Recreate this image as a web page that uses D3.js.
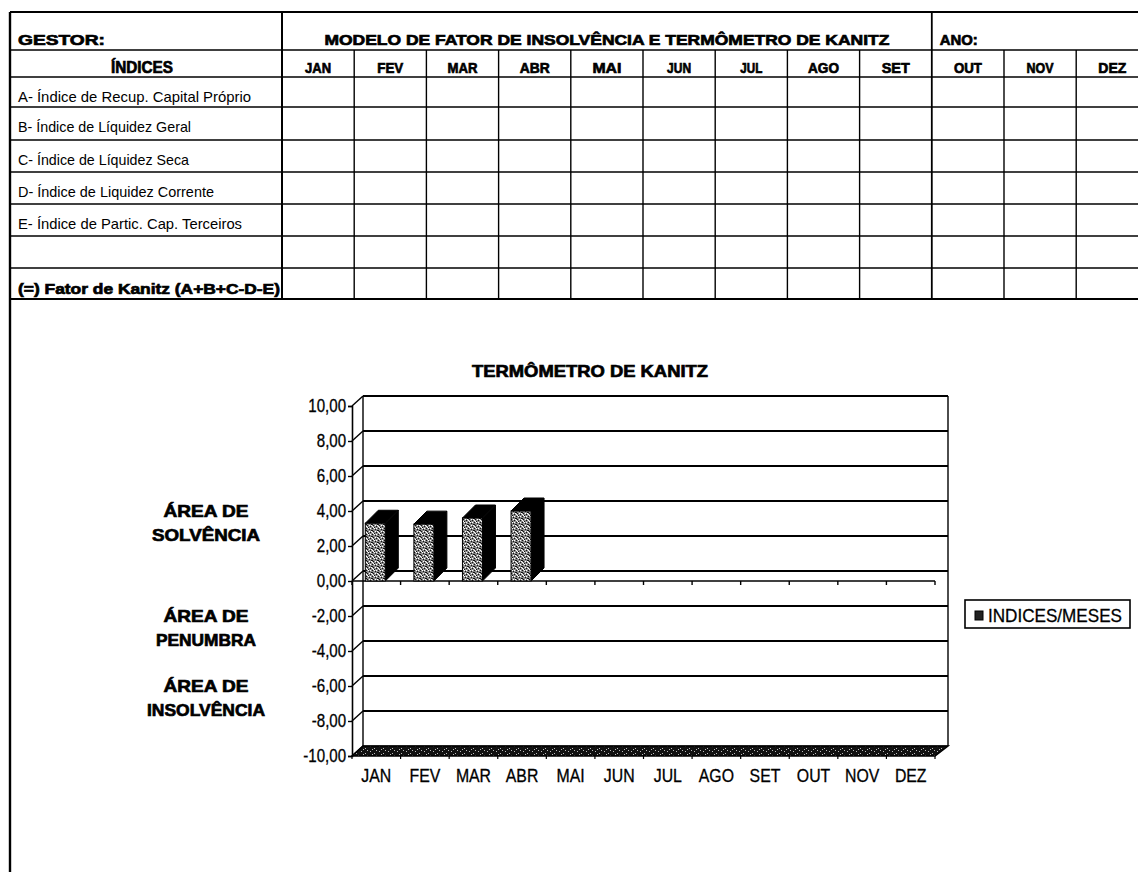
<!DOCTYPE html>
<html lang="pt">
<head>
<meta charset="utf-8">
<title>Termômetro de Kanitz</title>
<script src="https://cdn.jsdelivr.net/npm/d3@7"></script>
<style>
  html, body { margin: 0; padding: 0; background: #fff; }
  svg { display: block; }
  text { font-family: "Liberation Sans", Arial, sans-serif; fill: #000; }
  text.heavy { stroke: #000; stroke-width: 0.7px; paint-order: stroke; }
</style>
</head>
<body>
<svg id="sheet" width="1138" height="872"></svg>
<script>
// ---- sheet content ----
const months = ["JAN", "FEV", "MAR", "ABR", "MAI", "JUN", "JUL", "AGO", "SET", "OUT", "NOV", "DEZ"];
const indexRows = [
  "A- Índice de Recup. Capital Próprio",
  "B- Índice de Líquidez Geral",
  "C- Índice de Líquidez Seca",
  "D- Índice de Liquidez Corrente",
  "E- Índice de Partic. Cap. Terceiros",
  "",
  "(=) Fator de Kanitz (A+B+C-D-E)"
];
const sheetTitle = "MODELO DE FATOR DE INSOLVÊNCIA E TERMÔMETRO DE KANITZ";
const chartTitle = "TERMÔMETRO DE KANITZ";
// Kanitz factor per month (only JAN–ABR filled in)
const kanitzValues = [3.3, 3.25, 3.6, 4.0, null, null, null, null, null, null, null, null];
const yTickValues = [10, 8, 6, 4, 2, 0, -2, -4, -6, -8, -10];
const zoneLabels = [
  { lines: ["ÁREA DE", "SOLVÊNCIA"], at: 4 },
  { lines: ["ÁREA DE", "PENUMBRA"], at: -2 },
  { lines: ["ÁREA DE", "INSOLVÊNCIA"], at: -6 }
];
const legendLabel = "INDICES/MESES";

const svg = d3.select("#sheet");

// ---- patterns: stippled column face and speckled floor ----
const defs = svg.append("defs");
const stip = defs.append("pattern").attr("id", "stipple")
  .attr("width", 6).attr("height", 6).attr("patternUnits", "userSpaceOnUse");
stip.append("rect").attr("width", 6).attr("height", 6).attr("fill", "#8a8a8a");
[[0,0],[3,1],[1,3],[4,4],[2,5],[5,2],[0,2]].forEach(([a,b]) =>
  stip.append("rect").attr("x", a).attr("y", b).attr("width", 1).attr("height", 1).attr("fill", "#111"));
[[2,0],[5,3],[0,4],[3,3],[4,0],[1,5]].forEach(([a,b]) =>
  stip.append("rect").attr("x", a).attr("y", b).attr("width", 1).attr("height", 1).attr("fill", "#fff"));
const speck = defs.append("pattern").attr("id", "speck")
  .attr("width", 9).attr("height", 5).attr("patternUnits", "userSpaceOnUse");
speck.append("rect").attr("width", 9).attr("height", 5).attr("fill", "#111");
[[1,1],[5,3],[7,0],[3,4]].forEach(([a,b]) =>
  speck.append("rect").attr("x", a).attr("y", b).attr("width", 1).attr("height", 1).attr("fill", "#bbb"));

// helper: text squeezed to a given width
function fitText(g, x, y, str, width, opts = {}) {
  const t = g.append("text")
    .attr("x", x).attr("y", y)
    .attr("font-size", opts.size || 14)
    .attr("font-weight", opts.weight || "normal")
    .attr("text-anchor", opts.anchor || "start")
    .text(str);
  if (opts.heavy) t.attr("class", "heavy");
  if (width) t.attr("textLength", width).attr("lengthAdjust", "spacingAndGlyphs");
  return t;
}

// ---- table ----
const table = svg.append("g");
const left = 10, labelRight = 282, colW = 72.2, rightEdge = 1138;
const colX = d3.scaleLinear().domain([0, 12]).range([labelRight, labelRight + 12 * colW]);
const rowLines = [12, 50, 77, 107, 140, 172, 204, 236, 268, 299];

// horizontal rules
rowLines.forEach((yy, i) => {
  table.append("line").attr("x1", left).attr("x2", rightEdge)
    .attr("y1", yy).attr("y2", yy)
    .attr("stroke", "#000").attr("stroke-width", i === 0 || i === rowLines.length - 1 ? 2.2 : 1.6);
});
// left border, continues down the sheet
table.append("line").attr("x1", left).attr("x2", left).attr("y1", 12).attr("y2", 872)
  .attr("stroke", "#000").attr("stroke-width", 2.4);
// label column divider
table.append("line").attr("x1", labelRight).attr("x2", labelRight).attr("y1", 12).attr("y2", 299)
  .attr("stroke", "#000").attr("stroke-width", 2);
// "ANO" divider in the title row
table.append("line").attr("x1", colX(9)).attr("x2", colX(9)).attr("y1", 12).attr("y2", 50)
  .attr("stroke", "#000").attr("stroke-width", 1.8);
// month column dividers
d3.range(1, 12).forEach(i => {
  table.append("line").attr("x1", colX(i)).attr("x2", colX(i)).attr("y1", 50).attr("y2", 299)
    .attr("stroke", "#000").attr("stroke-width", i === 9 ? 1.8 : 1.4);
});

fitText(table, 18, 45, "GESTOR:", 87, { size: 15, weight: "bold", heavy: true });
fitText(table, (labelRight + colX(9)) / 2, 45, sheetTitle, 565, { size: 15, weight: "bold", anchor: "middle", heavy: true });
fitText(table, colX(9) + 8, 45, "ANO:", 38, { size: 15, weight: "bold", heavy: true });
fitText(table, 142, 73, "ÍNDICES", 62, { size: 16, weight: "bold", anchor: "middle", heavy: true });
const monthHeadW = [26, 26, 30, 30, 29, 24, 22, 31, 28, 28, 27, 28];
months.forEach((m, i) => {
  fitText(table, colX(i) + colW / 2, 73, m, monthHeadW[i], { size: 15, weight: "bold", anchor: "middle", heavy: true });
});
const rowLabelW = [233, 173, 171, 196, 224, 0, 262];
indexRows.forEach((r, i) => {
  if (!r) return;
  const last = i === indexRows.length - 1;
  fitText(table, 18, rowLines[i + 2] + 26 - (last ? 0 : 1), r, rowLabelW[i],
    { size: last ? 15 : 15, weight: last ? "bold" : "normal", heavy: last });
});

// ---- chart ----
const chart = svg.append("g");
const x = d3.scaleBand().domain(months).range([352, 935]);
const y = d3.scaleLinear().domain([-10, 10]).range([756, 406]);
const depth = { dx: 11, dy: -10 };
const wallL = x.range()[0] + depth.dx, wallR = x.range()[1] + 13;

fitText(chart, 590, 377, chartTitle, 236, { size: 17, weight: "bold", anchor: "middle", heavy: true });

// zone captions to the left of the axis
const zoneW = { "ÁREA DE": 85, "SOLVÊNCIA": 108, "PENUMBRA": 100, "INSOLVÊNCIA": 118 };
zoneLabels.forEach(z => {
  z.lines.forEach((ln, k) => {
    fitText(chart, 206, y(z.at) + 6 + k * 24, ln, zoneW[ln],
      { size: 17, weight: "bold", anchor: "middle", heavy: true });
  });
});

// floor at the bottom of the value axis
const yb = y(-10);
chart.append("polygon")
  .attr("points", [[x.range()[0], yb], [x.range()[1], yb], [wallR, yb + depth.dy], [wallL, yb + depth.dy]].join(" "))
  .attr("fill", "url(#speck)").attr("stroke", "#000").attr("stroke-width", 1.5);

// back wall gridlines and side-wall connectors
yTickValues.forEach(v => {
  chart.append("line").attr("x1", wallL).attr("x2", wallR)
    .attr("y1", y(v) + depth.dy).attr("y2", y(v) + depth.dy)
    .attr("stroke", "#000").attr("stroke-width", v === -10 ? 1 : 2);
  chart.append("line").attr("x1", x.range()[0]).attr("x2", wallL)
    .attr("y1", y(v)).attr("y2", y(v) + depth.dy)
    .attr("stroke", "#000").attr("stroke-width", 1.4);
});
// wall edges
chart.append("line").attr("x1", wallL).attr("x2", wallL)
  .attr("y1", y(10) + depth.dy).attr("y2", yb + depth.dy).attr("stroke", "#000").attr("stroke-width", 1.4);
chart.append("line").attr("x1", wallR).attr("x2", wallR)
  .attr("y1", y(10) + depth.dy).attr("y2", yb + depth.dy).attr("stroke", "#000").attr("stroke-width", 1.4);

// category axis line at zero with boundary ticks
const boundaries = months.map(m => x(m)).concat([x.range()[1]]);
chart.append("line").attr("x1", x.range()[0]).attr("x2", x.range()[1])
  .attr("y1", y(0)).attr("y2", y(0)).attr("stroke", "#000").attr("stroke-width", 1.6);
boundaries.forEach(bx => {
  chart.append("line").attr("x1", bx).attr("x2", bx).attr("y1", y(0)).attr("y2", y(0) + 4)
    .attr("stroke", "#000").attr("stroke-width", 1.4);
  chart.append("line").attr("x1", bx).attr("x2", bx).attr("y1", yb).attr("y2", yb + 3)
    .attr("stroke", "#000").attr("stroke-width", 1.2);
});

// 3-D columns
const bw = 20, bd = { dx: 13, dy: -13 };
months.forEach((m, i) => {
  const v = kanitzValues[i];
  if (v == null) return;
  const x0 = x(m) + (x.bandwidth() - bw) / 2 - 1;
  const yt = y(v), y0 = y(0);
  chart.append("polygon")
    .attr("points", [[x0 + bw, yt], [x0 + bw + bd.dx, yt + bd.dy], [x0 + bw + bd.dx, y0 + bd.dy], [x0 + bw, y0]].join(" "))
    .attr("fill", "#000").attr("stroke", "#000");
  chart.append("polygon")
    .attr("points", [[x0, yt], [x0 + bd.dx, yt + bd.dy], [x0 + bw + bd.dx, yt + bd.dy], [x0 + bw, yt]].join(" "))
    .attr("fill", "#000").attr("stroke", "#000");
  chart.append("rect").attr("x", x0).attr("y", yt).attr("width", bw).attr("height", y0 - yt)
    .attr("fill", "url(#stipple)").attr("stroke", "#000").attr("stroke-width", 1);
});

// value axis
const fmt = d => d.toFixed(2).replace(".", ",");
const yAxis = chart.append("g").attr("transform", `translate(${x.range()[0]},0)`)
  .call(d3.axisLeft(y).tickValues(yTickValues).tickFormat(fmt).tickSize(4).tickPadding(3));
yAxis.select(".domain").attr("stroke", "#000").attr("stroke-width", 1.6);
yAxis.selectAll(".tick line").attr("stroke", "#000").attr("stroke-width", 1.4);
yAxis.selectAll(".tick text").attr("font-size", 18).attr("font-family", "Liberation Sans, Arial, sans-serif")
  .attr("fill", "#000").attr("stroke", "#000").attr("stroke-width", 0.3)
  .attr("transform", "scale(0.84,1)");

// month labels
const xAxis = chart.append("g").attr("transform", `translate(0,${yb + 2})`)
  .call(d3.axisBottom(x).tickSize(0).tickPadding(11));
xAxis.select(".domain").remove();
xAxis.selectAll(".tick text").attr("font-size", 18).attr("font-family", "Liberation Sans, Arial, sans-serif")
  .attr("fill", "#000").attr("stroke", "#000").attr("stroke-width", 0.3)
  .attr("transform", "scale(0.88,1)");

// legend
const lg = chart.append("g");
lg.append("rect").attr("x", 965).attr("y", 600).attr("width", 165).attr("height", 28)
  .attr("fill", "#fff").attr("stroke", "#000").attr("stroke-width", 1.6);
lg.append("rect").attr("x", 975).attr("y", 611).attr("width", 8).attr("height", 9).attr("fill", "#222")
  .attr("stroke", "#000");
fitText(lg, 988, 622, legendLabel, 134, { size: 19 }).attr("stroke", "#000").attr("stroke-width", 0.3);
</script>
</body>
</html>
